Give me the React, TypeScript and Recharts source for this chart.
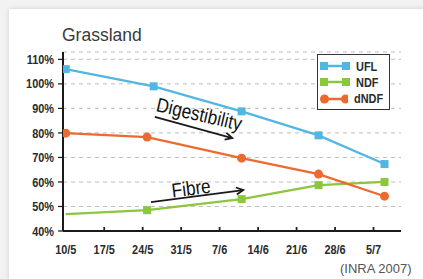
import React from 'react'
import {
  LineChart,
  Line,
  XAxis,
  YAxis,
  CartesianGrid,
  Legend,
  ReferenceLine,
  ReferenceDot,
} from 'recharts'

// x values are days counted from 10 May
const SERIES = ['UFL', 'NDF', 'dNDF']
const UFL_DAYS = [0, 16, 32, 46, 58]
const UFL_VALUES = [106, 99, 88.8, 79, 67.3]
const FIBRE_DAYS = [0, 14.8, 32, 46, 58]
const NDF_VALUES = [46.9, 48.5, 53, 58.7, 60]
const DNDF_VALUES = [79.9, 78.3, 69.7, 63.2, 54.2]

const TICK_DAYS = [0, 7, 14, 21, 28, 35, 42, 49, 56]
const TICK_LABELS = ['10/5', '17/5', '24/5', '31/5', '7/6', '14/6', '21/6', '28/6', '5/7']
const Y_TICKS = [40, 50, 60, 70, 80, 90, 100, 110]

const ARROWS = [
  { from: [16.2, 86.5], to: [30.3, 77.9] },
  { from: [15.5, 51.8], to: [32.3, 56.7] },
]
const NOTES = [
  { text: 'Digestibility', day: 24.3, value: 87.7, angle: 13 },
  { text: 'Fibre', day: 22.8, value: 57.5, angle: -7 },
]

const COLORS: Record<string, string> = {
  UFL: '#52b6e2',
  NDF: '#8cc63e',
  dNDF: '#ec6a30',
}

const SANS = "'Liberation Sans', Arial, sans-serif"
const SQUEEZE = 0.84

const uflData = UFL_DAYS.map((day, i) => ({ day, value: UFL_VALUES[i] }))
const ndfData = FIBRE_DAYS.map((day, i) => ({ day, value: NDF_VALUES[i] }))
const dndfData = FIBRE_DAYS.map((day, i) => ({ day, value: DNDF_VALUES[i] }))

const squareDot = (color: string, skipFirst = false) => (props: any) => {
  const { cx, cy, index } = props
  if (cx == null || cy == null || (skipFirst && index === 0)) return <g key={index} />
  return <rect key={index} x={cx - 4} y={cy - 4} width={8} height={8} fill={color} />
}

const circleDot = (color: string) => (props: any) => {
  const { cx, cy, index } = props
  if (cx == null || cy == null) return <g key={index} />
  return <circle key={index} cx={cx} cy={cy} r={4.5} fill={color} />
}

// condensed label: Liberation Sans squeezed horizontally
function NarrowText({ x, y, anchor, size = 13, bold = true, fill = '#2b2b2b', children }: any) {
  return (
    <text
      transform={`translate(${x} ${y}) scale(${SQUEEZE} 1)`}
      textAnchor={anchor}
      fill={fill}
      fontFamily={SANS}
      fontWeight={bold ? 'bold' : 'normal'}
      fontSize={size}
    >
      {children}
    </text>
  )
}

function XTick({ x, y, payload }: any) {
  const i = TICK_DAYS.indexOf(payload.value)
  return (
    <g>
      {i > 0 && <line x1={x} x2={x} y1={y - 4} y2={y} stroke="#222" strokeWidth={1.8} />}
      <NarrowText x={x} y={y + 23} anchor="middle">
        {TICK_LABELS[i]}
      </NarrowText>
    </g>
  )
}

function YTick({ x, y, payload }: any) {
  return (
    <NarrowText x={x} y={y + 4.6} anchor="end">
      {`${payload.value}%`}
    </NarrowText>
  )
}

function Arrow(props: any) {
  const { x1, y1, x2, y2 } = props
  const a = Math.atan2(y2 - y1, x2 - x1)
  const len = 7
  const w = 3.5
  const bx = x2 - len * Math.cos(a)
  const by = y2 - len * Math.sin(a)
  const px = -Math.sin(a) * w
  const py = Math.cos(a) * w
  return (
    <g>
      <line x1={x1} y1={y1} x2={x2} y2={y2} stroke="#1a1a1a" strokeWidth={1.8} />
      <polyline
        points={`${bx + px},${by + py} ${x2},${y2} ${bx - px},${by - py}`}
        fill="none"
        stroke="#1a1a1a"
        strokeWidth={1.8}
      />
    </g>
  )
}

const noteShape = (text: string, angle: number) => (props: any) => {
  const { cx, cy } = props
  return (
    <text
      transform={`translate(${cx} ${cy}) rotate(${angle}) scale(0.86 1)`}
      y={7}
      textAnchor="middle"
      fill="#111"
      fontFamily={SANS}
      fontSize={20}
    >
      {text}
    </text>
  )
}

function LegendIcon({ name }: { name: string }) {
  const color = COLORS[name]
  return (
    <svg width={30} height={10}>
      <line x1={4} x2={26} y1={5} y2={5} stroke={color} strokeWidth={2.5} />
      {name === 'dNDF' ? (
        <>
          <circle cx={4.5} cy={5} r={4.5} fill={color} />
          <circle cx={25.5} cy={5} r={4.5} fill={color} />
        </>
      ) : (
        <>
          <rect x={0} y={1} width={8} height={8} fill={color} />
          <rect x={22} y={1} width={8} height={8} fill={color} />
        </>
      )}
    </svg>
  )
}

function BoxLegend({ payload }: any) {
  if (!payload) return null
  const items = [...payload].sort(
    (a: any, b: any) => SERIES.indexOf(a.value) - SERIES.indexOf(b.value),
  )
  return (
    <div
      style={{
        width: 73,
        height: 56,
        boxSizing: 'border-box',
        border: '1.5px solid #333',
        background: '#fff',
        padding: '3px 0 0 2px',
      }}
    >
      {items.map((entry: any) => (
        <div key={entry.value} style={{ display: 'flex', alignItems: 'center', height: 16.3 }}>
          <LegendIcon name={entry.value} />
          <span
            style={{
              display: 'inline-block',
              marginLeft: 6,
              fontFamily: SANS,
              fontWeight: 'bold',
              fontSize: 13,
              color: '#2b2b2b',
              transform: `scaleX(${SQUEEZE})`,
              transformOrigin: 'left center',
            }}
          >
            {entry.value}
          </span>
        </div>
      ))}
    </div>
  )
}

export default function App() {
  return (
    <div
      style={{
        position: 'fixed',
        left: 0,
        top: 0,
        width: 423,
        height: 279,
        overflow: 'hidden',
        background: '#f2f2f2',
      }}
    >
      <div
        style={{
          position: 'absolute',
          left: 9,
          top: 9,
          width: 430,
          height: 290,
          background: '#fff',
          boxShadow: '0 0 5px rgba(0,0,0,0.14)',
        }}
      />
      <div
        style={{
          position: 'absolute',
          left: 62,
          top: 26.5,
          fontFamily: SANS,
          fontSize: 17.5,
          lineHeight: 1,
          color: '#3a3a3a',
        }}
      >
        Grassland
      </div>
      <div
        style={{
          position: 'absolute',
          left: 340,
          top: 262,
          fontFamily: SANS,
          fontSize: 13,
          lineHeight: 1,
          color: '#555',
        }}
      >
        (INRA 2007)
      </div>
      <div style={{ position: 'absolute', left: 0, top: 0 }}>
        <LineChart width={423} height={279} margin={{ top: 52, right: 22, bottom: 18, left: 0 }}>
          <CartesianGrid vertical={false} stroke="#bdbdbd" strokeDasharray="4 4" />
          <XAxis
            dataKey="day"
            type="number"
            domain={[-0.5, 61]}
            allowDataOverflow
            ticks={TICK_DAYS}
            interval={0}
            tickSize={0}
            tickMargin={0}
            tickLine={false}
            height={30}
            axisLine={{ stroke: '#1a1a1a', strokeWidth: 2 }}
            tick={<XTick />}
          />
          <YAxis
            type="number"
            domain={[40, 113]}
            allowDataOverflow
            ticks={Y_TICKS}
            interval={0}
            width={63}
            tickSize={5}
            tickMargin={4}
            tickLine={{ stroke: '#1a1a1a', strokeWidth: 1.2 }}
            axisLine={{ stroke: '#1a1a1a', strokeWidth: 2 }}
            tick={<YTick />}
          />
          <Legend
            layout="vertical"
            align="center"
            verticalAlign="middle"
            wrapperStyle={{ left: 317, top: 54, width: 73 }}
            content={<BoxLegend />}
          />
          {ARROWS.map((a, i) => (
            <ReferenceLine
              key={`arrow-${i}`}
              segment={[
                { x: a.from[0], y: a.from[1] },
                { x: a.to[0], y: a.to[1] },
              ]}
              shape={Arrow}
            />
          ))}
          {NOTES.map((n) => (
            <ReferenceDot key={n.text} x={n.day} y={n.value} r={1} shape={noteShape(n.text, n.angle)} />
          ))}
          <Line
            name="UFL"
            data={uflData}
            dataKey="value"
            stroke={COLORS.UFL}
            strokeWidth={2.2}
            dot={squareDot(COLORS.UFL)}
            activeDot={false}
            isAnimationActive={false}
          />
          <Line
            name="NDF"
            data={ndfData}
            dataKey="value"
            stroke={COLORS.NDF}
            strokeWidth={2.2}
            dot={squareDot(COLORS.NDF, true)}
            activeDot={false}
            isAnimationActive={false}
          />
          <Line
            name="dNDF"
            data={dndfData}
            dataKey="value"
            stroke={COLORS.dNDF}
            strokeWidth={2.2}
            dot={circleDot(COLORS.dNDF)}
            activeDot={false}
            isAnimationActive={false}
          />
        </LineChart>
      </div>
    </div>
  )
}
